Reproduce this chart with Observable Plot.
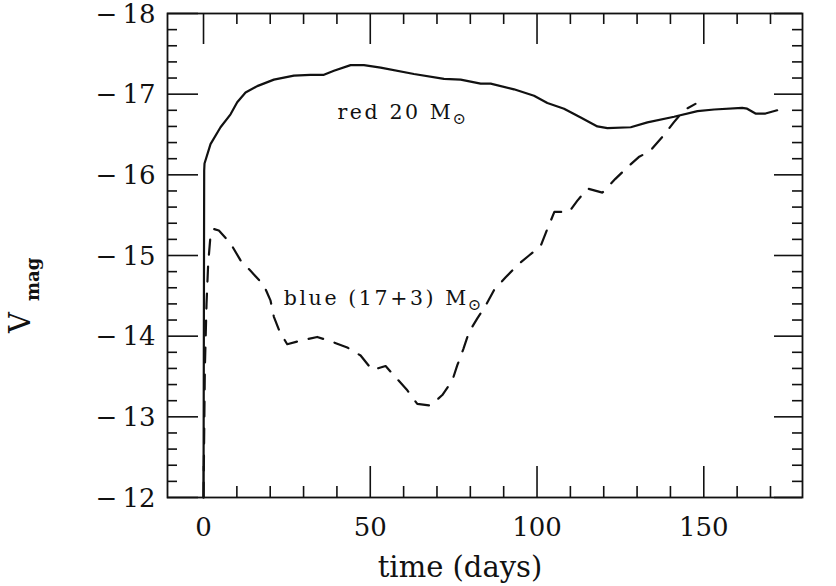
<!DOCTYPE html>
<html><head><meta charset="utf-8">
<script src="https://cdn.jsdelivr.net/npm/d3@7"></script>
<script src="https://cdn.jsdelivr.net/npm/@observablehq/plot@0.6"></script>
<style>html,body{margin:0;padding:0;background:#fff;} #chart{width:836px;height:586px;}</style>
</head><body><div id="chart"></div>
<script>
// red 20 Msun model (solid)
const redDays = [0, 0.2, 0.3, 2.1, 5.1, 8.1, 10.1, 12.6, 16.1, 21.1, 27.1, 32, 36.1, 39.1, 44.1, 48.1, 53.1, 63.1, 72.1, 77.1, 83.1, 86.1, 93.1, 99.1, 103.1, 108.1, 113.1, 118.1, 121.1, 128.1, 133.1, 141.1, 148.1, 153.1, 161.5, 163, 165.5, 168.5, 172];
const redMag  = [-12, -16.05, -16.14, -16.38, -16.59, -16.75, -16.9, -17.02, -17.10, -17.18, -17.23, -17.24, -17.24, -17.29, -17.36, -17.36, -17.33, -17.25, -17.19, -17.18, -17.13, -17.13, -17.06, -16.98, -16.89, -16.82, -16.71, -16.60, -16.58, -16.59, -16.65, -16.72, -16.79, -16.81, -16.83, -16.82, -16.76, -16.76, -16.80];
// blue (17+3) Msun model (dashed)
const blueDays = [0, 0.4, 0.9, 1.4, 2.0, 3.0, 4.6, 8.1, 11.1, 14.1, 18.1, 20.1, 21.1, 22.9, 25.1, 29.6, 34.1, 38.6, 43.1, 47.1, 50.6, 54.6, 57.6, 60.9, 64.1, 68.1, 71.6, 74.6, 76.1, 77.9, 79.6, 82.1, 84.6, 87.1, 90.6, 94.1, 97.6, 101.1, 103.1, 105.2, 109.6, 112.1, 115.1, 119.6, 123.5, 127, 130.5, 134, 138, 141, 144, 147.5];
const blueMag  = [-12, -13.6, -14.4, -14.9, -15.2, -15.33, -15.31, -15.15, -14.94, -14.81, -14.63, -14.44, -14.24, -14.05, -13.9, -13.95, -13.99, -13.93, -13.86, -13.76, -13.58, -13.63, -13.49, -13.34, -13.16, -13.14, -13.27, -13.45, -13.64, -13.84, -14.05, -14.22, -14.38, -14.57, -14.73, -14.88, -15.0, -15.12, -15.33, -15.54, -15.54, -15.68, -15.83, -15.78, -15.95, -16.09, -16.22, -16.3, -16.49, -16.65, -16.80, -16.88];

const xMajor = [0, 50, 100, 150];
const xMinor = [10, 20, 30, 40, 60, 70, 80, 90, 110, 120, 130, 140, 160, 170];
const yMajor = [-18, -17, -16, -15, -14, -13, -12];
const yMinor = [-17.8, -17.6, -17.4, -17.2, -16.8, -16.6, -16.4, -16.2, -15.8, -15.6, -15.4, -15.2, -14.8, -14.6, -14.4, -14.2, -13.8, -13.6, -13.4, -13.2, -12.8, -12.6, -12.4, -12.2];

const annoText = ["red 20 M", "blue (17+3) M"];
const annoX = [40.3, 24.2];
const annoY = [-16.68, -14.38];
const xLabel = "time (days)";
const yLabelMain = "V";
const yLabelSub = "mag";

const W = 836, H = 586, mL = 167, mR = 34, mT = 13, mB = 89;
const fh = H - mT - mB, fw = W - mL - mR;
const red = redDays.map((d, i) => ({d, m: redMag[i]}));
const blue = blueDays.map((d, i) => ({d, m: blueMag[i]}));
const font = "DejaVu Serif";

const svg = Plot.plot({
  width: W, height: H,
  marginLeft: mL, marginRight: mR, marginTop: mT, marginBottom: mB,
  x: {domain: [-10.8, 179.6], label: null},
  y: {domain: [-12, -18], label: null},
  style: {fontFamily: font, fontSize: "26px", background: "white", color: "#111"},
  marks: [
    Plot.frame({strokeWidth: 1.8}),
    Plot.tickX(xMajor, {x: d => d, insetTop: fh - 31, strokeWidth: 1.6}),
    Plot.tickX(xMajor, {x: d => d, insetBottom: fh - 31, strokeWidth: 1.6}),
    Plot.tickX(xMinor, {x: d => d, insetTop: fh - 11, strokeWidth: 1.6}),
    Plot.tickX(xMinor, {x: d => d, insetBottom: fh - 11, strokeWidth: 1.6}),
    Plot.tickY(yMajor, {y: d => d, insetRight: fw - 31, strokeWidth: 1.6}),
    Plot.tickY(yMajor, {y: d => d, insetLeft: fw - 28, strokeWidth: 1.6}),
    Plot.tickY(yMinor, {y: d => d, insetRight: fw - 10, strokeWidth: 1.6}),
    Plot.tickY(yMinor, {y: d => d, insetLeft: fw - 10, strokeWidth: 1.6}),
    Plot.line(red, {x: "d", y: "m", strokeWidth: 2.2}),
    Plot.line(blue, {x: "d", y: "m", strokeWidth: 2.2, strokeDasharray: "15,12"}),
    Plot.axisX({ticks: xMajor, tickSize: 0, tickPadding: 20, fontSize: 26}),
    Plot.axisY({ticks: yMajor, tickSize: 0, tickPadding: 12, fontSize: 26, dy: 1,
      tickFormat: d => "\u2212\u2009" + Math.abs(d)})
  ]
});

const xs = svg.scale("x"), ys = svg.scale("y");
const sel = d3.select(svg);
const g = sel.append("g").attr("font-family", font).attr("fill", "#111").attr("text-anchor", "start");
annoText.forEach((t, i) => {
  const txt = g.append("text")
    .attr("x", xs.apply(annoX[i]))
    .attr("y", ys.apply(annoY[i]))
    .attr("font-size", 20.5)
    .attr("letter-spacing", 2.6);
  txt.append("tspan").text(t);
  txt.append("tspan").attr("font-size", 16).attr("dy", 5).attr("dx", -1).text("\u2299");
});
g.append("text")
  .attr("x", 460).attr("y", 577)
  .attr("text-anchor", "middle")
  .attr("font-size", 29)
  .text(xLabel);
g.append("text")
  .attr("transform", "translate(30,333) rotate(-90)")
  .attr("font-size", 29)
  .text(yLabelMain);
g.append("text")
  .attr("transform", "translate(39,301) rotate(-90)")
  .attr("font-size", 18)
  .attr("font-weight", "bold")
  .text(yLabelSub);

document.getElementById("chart").appendChild(svg);
</script>
</body></html>
